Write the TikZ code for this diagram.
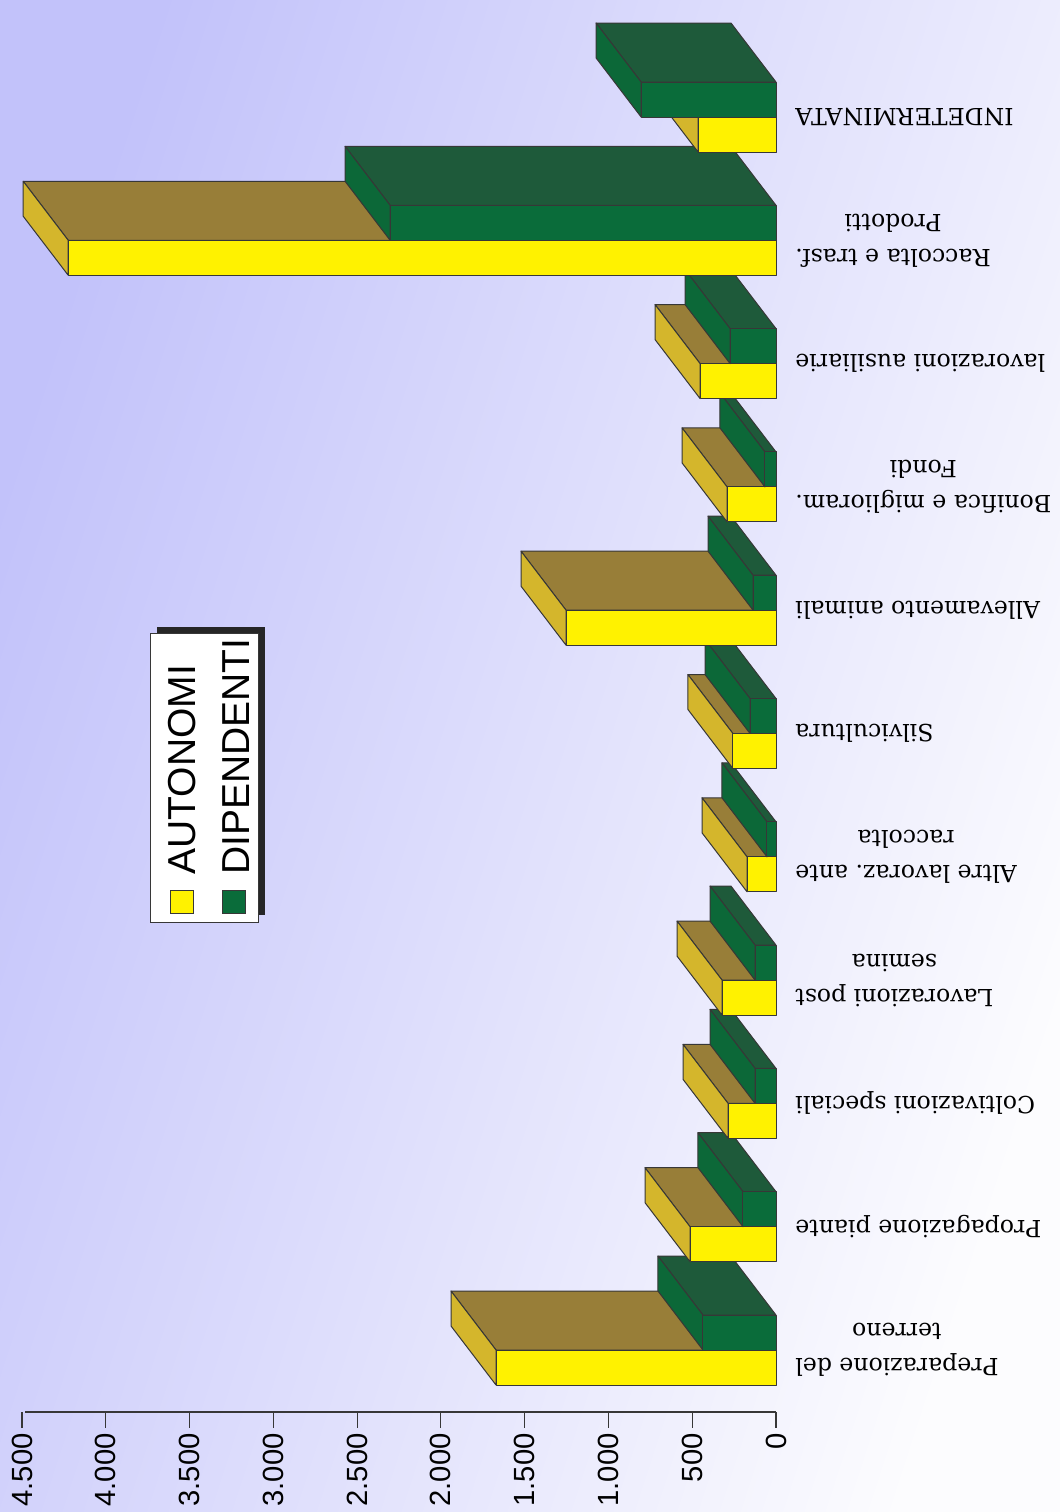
\documentclass[tikz,border=0pt]{standalone}
\usepackage{fontspec}
\setmainfont{DejaVu Serif}
\setsansfont{Liberation Sans}
\usetikzlibrary{positioning}

\definecolor{autfront}{RGB}{255,242,0}
\definecolor{autside}{RGB}{212,182,44}
\definecolor{auttop}{RGB}{152,126,56}
\definecolor{dipfront}{RGB}{10,108,58}
\definecolor{dipside}{RGB}{12,104,56}
\definecolor{diptop}{RGB}{30,90,58}
\definecolor{bgtop}{RGB}{194,194,250}
\definecolor{bgbot}{RGB}{252,252,254}
\definecolor{edge}{RGB}{55,55,55}

\begin{document}
\begin{tikzpicture}[
    x=0.5pt,y=-0.5pt,
    face/.style={draw=edge,line width=0.5pt,line join=round},
    catlabel/.style={rotate=180,anchor=east,align=center,inner sep=0pt,font=\frenchspacing\fontsize{11.8}{17.5}\selectfont},
    vallabel/.style={rotate=90,anchor=east,inner sep=0pt,font=\sffamily\fontsize{14.6}{17}\selectfont},
    legtext/.style={rotate=90,anchor=west,inner sep=0pt,font=\sffamily\fontsize{19.5}{22}\selectfont},
    legmark/.style={draw=edge,line width=0.5pt,minimum size=11.5pt,inner sep=0pt}
    ]

  \useasboundingbox (0,0) rectangle (1060,1512);
  \shade[top color=bgtop,bottom color=bgbot,shading angle=72] (0,0) rectangle (1060,1512);

  % value axis
  \draw[edge,line width=0.6pt] (25,1412) -- (776,1412);
  \foreach \v/\txt in {0/0,500/500,1000/1.000,1500/1.500,2000/2.000,2500/2.500,3000/3.000,3500/3.500,4000/4.000,4500/4.500} {
    \draw[edge,line width=0.6pt] (776-\v*0.16756,1412) -- ++(0,16);
    \node (val\v) [vallabel] at (776-\v*0.16756,1433) {\txt};
  }

  % bars
  \foreach \i/\aut/\dip/\lab in {
      0/1671/436/{Preparazione del\\terreno},
      1/513/197/{Propagazione piante},
      2/286/125/{Coltivazioni speciali},
      3/322/125/{Lavorazioni post\\semina},
      4/173/54/{Altre lavoraz. ante\\raccolta},
      5/257/155/{Silvicultura},
      6/1253/137/{Allevamento animali},
      7/292/66/{Bonifica e miglioram.\\Fondi},
      8/453/274/{lavorazioni ausiliarie},
      9/4224/2303/{Raccolta e trasf.\\Prodotti},
      10/465/805/{INDETERMINATA}} {
    \pgfmathsetmacro\yb{1350-123.3*\i}
    \pgfmathsetmacro\xa{776-\aut*0.16756}
    \pgfmathsetmacro\xd{776-\dip*0.16756}
    % autonomi
    \filldraw[fill=auttop,face] (\xa,\yb) -- (776,\yb) -- (731,\yb-59) -- (\xa-45,\yb-59) -- cycle;
    \filldraw[fill=autside,face] (\xa,\yb) -- (\xa-45,\yb-59) -- (\xa-45,\yb-24) -- (\xa,\yb+35) -- cycle;
    \filldraw[fill=autfront,face] (\xa,\yb) rectangle (776,\yb+35);
    % dipendenti
    \filldraw[fill=diptop,face] (\xd,\yb-35) -- (776,\yb-35) -- (731,\yb-94) -- (\xd-45,\yb-94) -- cycle;
    \filldraw[fill=dipside,face] (\xd,\yb-35) -- (\xd-45,\yb-94) -- (\xd-45,\yb-59) -- (\xd,\yb) -- cycle;
    \filldraw[fill=dipfront,face] (\xd,\yb-35) rectangle (776,\yb);
    \node (cat\i) [catlabel] at (795,\yb) {\lab};
  }

  % legend
  \fill[black!85] (157,627) rectangle (265,915);
  \filldraw[fill=white,draw=edge,line width=0.5pt] (150,633) rectangle (258,922);
  \node (markAut) [legmark,fill=autfront] at (181.5,901.5) {};
  \node (markDip) [legmark,fill=dipfront] at (234,901.5) {};
  \node (txtAut) [legtext] at (182,875) {AUTONOMI};
  \node (txtDip) [legtext] at (236,875) {DIPENDENTI};

\end{tikzpicture}
\end{document}
